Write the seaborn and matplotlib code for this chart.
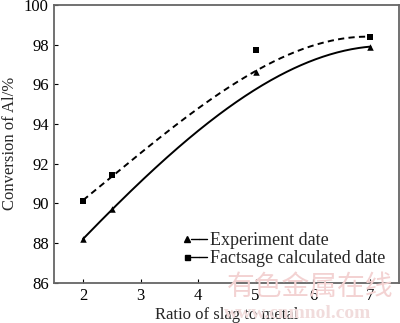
import numpy as np
import pandas as pd
import matplotlib
matplotlib.use("Agg")
import matplotlib.pyplot as plt
import seaborn as sns
from matplotlib.lines import Line2D
from matplotlib.legend_handler import HandlerTuple

# Slag-to-metal ratio and Al conversion (%)
ratio = [2, 2.5, 5, 7]
experiment = [88.2, 89.7, 96.6, 97.9]
factsage = [90.1, 91.4, 97.7, 98.4]

# Smoothed trend curves (values along each fitted line)
trend_x = [2, 2.5, 3, 3.95, 5, 6, 7]
trend_experiment = [88.2, 89.7, 91.06, 93.53, 95.76, 97.19, 97.9]
trend_factsage = [90.1, 91.4, 92.64, 94.45, 96.82, 97.9, 98.4]

series_labels = ["Experiment date", "Factsage calculated date"]
yticks = [86, 88, 90, 92, 94, 96, 98, 100]
xticks = [2, 3, 4, 5, 6, 7]

sns.set_theme(style="ticks")
plt.rcParams["font.family"] = ["Liberation Serif", "DejaVu Serif"]

fig = plt.figure(figsize=(4.0, 3.23), dpi=100)
ax = fig.add_axes([0.136, 0.125, 0.862, 0.86])

xs = np.linspace(min(trend_x), max(trend_x), 200)
curve_exp = pd.DataFrame({"x": xs, "y": np.polyval(np.polyfit(trend_x, trend_experiment, 3), xs)})
curve_fs = pd.DataFrame({"x": xs, "y": np.polyval(np.polyfit(trend_x, trend_factsage, 3), xs)})
sns.lineplot(data=curve_exp, x="x", y="y", ax=ax, color="black", lw=1.4, legend=False)
sns.lineplot(data=curve_fs, x="x", y="y", ax=ax, color="black", lw=1.4, legend=False)
ax.lines[1].set_dashes([3.2, 2.2])

pts_exp = pd.DataFrame({"x": ratio, "y": experiment})
pts_fs = pd.DataFrame({"x": ratio, "y": factsage})
sns.scatterplot(data=pts_exp, x="x", y="y", ax=ax, marker="^", s=22,
                color="black", edgecolor="black", linewidth=0, legend=False, zorder=3)
sns.scatterplot(data=pts_fs, x="x", y="y", ax=ax, marker="s", s=15,
                color="black", edgecolor="black", linewidth=0, legend=False, zorder=3)

ax.set_xlim(1.5, 7.5)
ax.set_ylim(86, 100)
ax.set_xticks(xticks)
ax.set_yticks(yticks)
ax.tick_params(direction="in", length=3, width=0.8, labelsize=12, colors="black", pad=4)
ax.set_xlabel("Ratio of slag to metal", fontsize=12, labelpad=2)
ax.set_ylabel("Conversion of Al/%", fontsize=12, labelpad=4)
for sp in ax.spines.values():
    sp.set_visible(True)
    sp.set_color("#666666")
    sp.set_linewidth(1.3)

def legend_handle(marker, ms):
    mk = Line2D([], [], marker=marker, ls="none", color="black", ms=ms)
    ln = Line2D([], [], ls="-", color="black", lw=1.0)
    return (mk, ln, ln)

handles = [legend_handle("^", 4.2), legend_handle("s", 3.6)]
ax.legend(handles, series_labels, handler_map={tuple: HandlerTuple(ndivide=None, pad=0.0)},
          loc="center left", bbox_to_anchor=(183 / 400, 1 - 249.5 / 323),
          bbox_transform=fig.transFigure, frameon=False, fontsize=13,
          handlelength=1.35, handletextpad=0.15, labelspacing=0.05,
          borderpad=0, borderaxespad=0)

# Site watermark
fig.text(0.775, 1 - 287 / 323, "有色金属在线", fontsize=20, color="#f3d2d2", ha="center",
         va="center", family=["Noto Sans CJK SC"], zorder=0)
fig.text(0.56, 1 - 314 / 323, "www.cnmnol.com", fontsize=14, color="#f1dcdc", ha="left",
         va="center", weight="bold", zorder=0)

fig.savefig("out.png", dpi=100, facecolor="white")
